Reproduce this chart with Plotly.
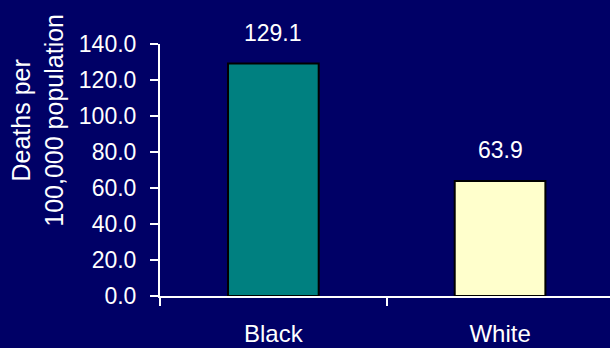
import plotly.graph_objects as go

categories = ["Black", "White"]
values = [129.1, 63.9]
value_labels = ["129.1", "63.9"]
bar_colors = ["#008080", "#FFFFCC"]
y_ticks = [0, 20, 40, 60, 80, 100, 120, 140]
y_tick_labels = ["0.0", "20.0", "40.0", "60.0", "80.0", "100.0", "120.0", "140.0"]
y_title = "Deaths per<br>100,000 population"

BG = "#000066"
FONT = "Liberation Sans, Arial, sans-serif"

fig = go.Figure()
fig.add_trace(go.Bar(
    x=categories, y=values,
    marker=dict(color=bar_colors, line=dict(color="black", width=2)),
    width=0.4,
    hoverinfo="skip",
))

for c, v, t in zip(categories, values, value_labels):
    fig.add_annotation(x=c, y=v, text=t, showarrow=False, xanchor="center",
                       yanchor="bottom", yshift=16,
                       font=dict(color="white", size=23, family=FONT))

fig.add_annotation(xref="paper", yref="paper", x=-0.272, y=0.698,
                   text=y_title, textangle=-90, showarrow=False,
                   xanchor="center", yanchor="middle",
                   font=dict(color="white", size=25, family=FONT))

fig.update_layout(
    width=610, height=348,
    margin=dict(l=160, r=0, t=44, b=52, pad=0, autoexpand=False),
    paper_bgcolor=BG, plot_bgcolor=BG,
    showlegend=False,
    font=dict(family=FONT, color="white"),
    xaxis=dict(
        type="category", range=[-0.5, 1.485], automargin=False,
        showline=True, linecolor="white", linewidth=2,
        ticks="outside", tickson="boundaries", ticklen=8, tickwidth=2, tickcolor="white",
        showgrid=False, zeroline=False,
        tickfont=dict(size=24, color="white", family=FONT),
        ticklabelstandoff=15,
    ),
    yaxis=dict(
        range=[0, 140], tickvals=y_ticks, ticktext=y_tick_labels, automargin=False,
        showline=True, linecolor="white", linewidth=2,
        ticks="outside", ticklen=8, tickwidth=2, tickcolor="white",
        showgrid=False, zeroline=False,
        tickfont=dict(size=23, color="white", family=FONT),
        ticklabelstandoff=9,
    ),
)

fig.write_html("out.html")
